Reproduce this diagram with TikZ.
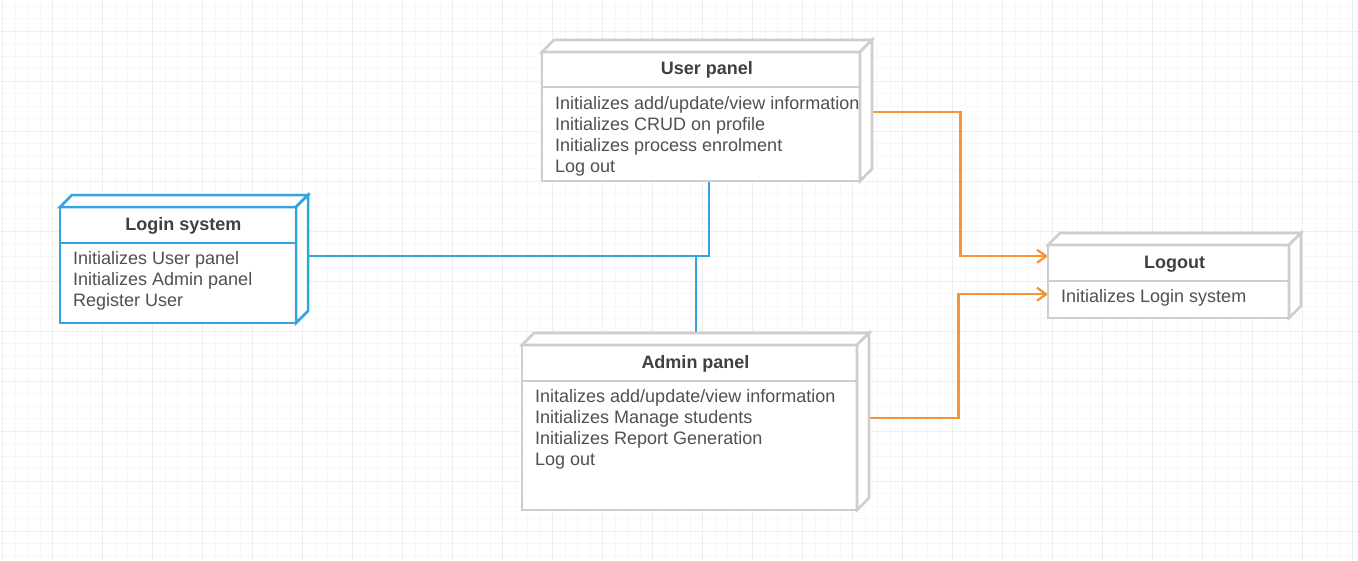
\documentclass[tikz,border=0pt]{standalone}
\usepackage{fontspec}
\setmainfont{Liberation Sans}
\usetikzlibrary{arrows.meta}
\definecolor{gridminor}{RGB}{247,247,247}
\definecolor{gridmajor}{RGB}{238,238,238}
\definecolor{boxgray}{RGB}{206,206,206}
\definecolor{loginblue}{RGB}{52,163,222}
\definecolor{linkorange}{RGB}{247,148,52}
\definecolor{txt}{RGB}{80,80,80}
\definecolor{ttl}{RGB}{64,64,64}
\newcommand{\cubeshape}[6]{%
  \filldraw[#1] (#2,#3) rectangle (#4,#5);
  \filldraw[#1] (#2,#3) -- (#2+#6,#3-#6) -- (#4+#6,#3-#6) -- (#4,#3) -- cycle;
  \filldraw[#1] (#4,#3) -- (#4+#6,#3-#6) -- (#4+#6,#5-#6) -- (#4,#5) -- cycle;
}
\tikzset{
  bound/.style={draw=none, inner sep=0pt, anchor=north west},
  graybox/.style={draw=boxgray, fill=white, line width=2.6pt, line join=miter},
  bluebox/.style={draw=loginblue, fill=white, line width=2.5pt, line join=miter},
  ttltext/.style={anchor=base, inner sep=0pt, text=ttl, font=\fontsize{18}{21}\selectfont\bfseries},
  bodytext/.style={anchor=base west, inner sep=0pt, align=left, text=txt, font=\fontsize{18}{21}\selectfont},
  bluelink/.style={draw=loginblue, line width=2.3pt},
  orangelink/.style={draw=linkorange, line width=2.3pt, -{Straight Barb[length=9pt,width=13pt,line width=2.3pt]}},
}
\begin{document}
\begin{tikzpicture}[x=1pt,y=-1pt]
\useasboundingbox (0,0) rectangle (1358,560);
\fill[white] (0,0) rectangle (1358,560);
% grid
\foreach \i in {0,...,109} {\draw[gridminor, line width=0.8pt] (2.7+12.5*\i,0) -- (2.7+12.5*\i,560);}
\foreach \i in {0,...,45} {\draw[gridminor, line width=0.8pt] (0,6+12.5*\i) -- (1358,6+12.5*\i);}
\foreach \i in {0,...,27} {\draw[gridmajor, line width=0.8pt] (2.7+50*\i,0) -- (2.7+50*\i,560);}
\foreach \i in {0,...,11} {\draw[gridmajor, line width=0.8pt] (0,31+50*\i) -- (1358,31+50*\i);}

% bounding nodes (full extents incl. depth)
\node[bound, minimum width=248pt, minimum height=128pt] (login) at (60,195) {};
\node[bound, minimum width=330pt, minimum height=141pt] (user) at (542,40) {};
\node[bound, minimum width=347pt, minimum height=177pt] (admin) at (522,333) {};
\node[bound, minimum width=253pt, minimum height=85pt] (logout) at (1048,233) {};

% connectors (drawn first, under boxes)
\draw[bluelink] ([yshift=3pt]login.east) -| ([xshift=2pt]user.south);
\draw[bluelink] ([yshift=3pt]login.east) -| (admin.north);
\draw[orangelink] ([yshift=-1.5pt]user.east) -- ++(88,0) |- ([yshift=19.5pt]logout.west);
\draw[orangelink] ([yshift=3.5pt]admin.east) -- ++(89,0) |- ([yshift=-18.5pt]logout.west);

% Login system
\cubeshape{bluebox}{60}{207}{296}{323}{12}
\draw[bluebox] (60,243) -- (296,243);
\node[ttltext] (login-t) at (183.5,230.5) {Login system};
\node[bodytext] (login-b) at (73,306.5) {Initializes User panel\\Initializes Admin panel\\Register User};

% User panel
\cubeshape{graybox}{542}{52}{860}{181}{12}
\draw[graybox] (542,87) -- (860,87);
\node[ttltext] (user-t) at (707,74.5) {User panel};
\node[bodytext] (user-b) at (555,172) {Initializes add/update/view information\\Initializes CRUD on profile\\Initializes process enrolment\\Log out};

% Admin panel
\cubeshape{graybox}{522}{345}{857}{510}{12}
\draw[graybox] (522,381) -- (857,381);
\node[ttltext] (admin-t) at (695.5,368.5) {Admin panel};
\node[bodytext] (admin-b) at (535,465.5) {Initalizes add/update/view information\\Initializes Manage students\\Initializes Report Generation\\Log out};

% Logout
\cubeshape{graybox}{1048}{245}{1289}{318}{12}
\draw[graybox] (1048,281) -- (1289,281);
\node[ttltext] (logout-t) at (1174.5,268.5) {Logout};
\node[bodytext] (logout-b) at (1061,302.5) {Initializes Login system};
\end{tikzpicture}
\end{document}
